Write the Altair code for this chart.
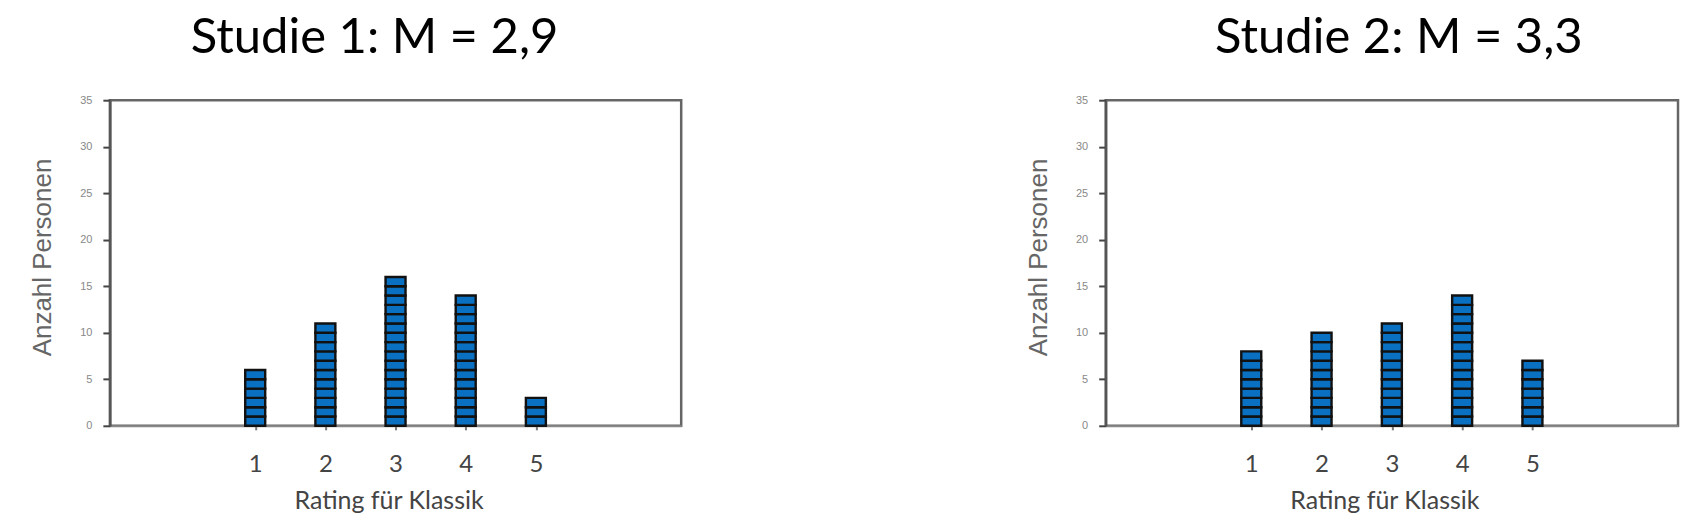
import altair as alt
import pandas as pd

ratings = [1, 2, 3, 4, 5]
counts_studie1 = [6, 11, 16, 14, 3]
counts_studie2 = [8, 10, 11, 14, 7]
titles = ["Studie 1: M = 2,9", "Studie 2: M = 3,3"]
y_ticks = [0, 5, 10, 15, 20, 25, 30, 35]
x_title = "Rating für Klassik"
y_title = "Anzahl Personen"


def units(counts):
    rows = []
    for r, c in zip(ratings, counts):
        for k in range(c):
            rows.append({"rating": r, "lo": k, "hi": k + 1})
    return pd.DataFrame(rows)


def panel(counts, title, width, title_dx):
    df = units(counts)
    return (
        alt.Chart(df)
        .mark_bar(size=20, fill="#0a70c2", stroke="#111111", strokeWidth=2.4)
        .encode(
            x=alt.X(
                "rating:Q",
                scale=alt.Scale(domain=[-1, 7], nice=False, zero=False),
                axis=alt.Axis(
                    values=ratings,
                    title=x_title,
                    grid=False,
                    ticks=True,
                    tickSize=4,
                    tickColor="#777777",
                    tickWidth=2,
                    domainColor="#888888",
                    domainWidth=2,
                    labelFont="Lato",
                    labelFontSize=24,
                    labelColor="#444444",
                    labelPadding=42,
                    labelBaseline="alphabetic",
                    titleFont="Lato",
                    titleFontSize=25,
                    titleFontWeight="normal",
                    titleColor="#444444",
                    titleX=279,
                    titleY=83,
                    titleBaseline="alphabetic",
                    titleAlign="center",
                ),
            ),
            y=alt.Y(
                "lo:Q",
                scale=alt.Scale(domain=[0, 35], nice=False),
                axis=alt.Axis(
                    values=y_ticks,
                    title=y_title,
                    grid=False,
                    tickSize=7,
                    tickColor="#444444",
                    tickWidth=2,
                    domainColor="#555555",
                    domainWidth=2.5,
                    labelFont="Liberation Sans",
                    labelFontSize=11,
                    labelColor="#888888",
                    labelPadding=11,
                    titleFont="Liberation Sans",
                    titleFontSize=26,
                    titleFontWeight="normal",
                    titleColor="#666666",
                    titleX=-67,
                    titleY=157,
                    titleAngle=-90,
                    titleAlign="center",
                    titleBaseline="middle",
                ),
            ),
            y2="hi:Q",
        )
        .properties(
            width=width,
            height=326,
            title=alt.TitleParams(
                text=title,
                font="Lato",
                fontSize=49,
                fontWeight="normal",
                color="#000000",
                anchor="middle",
                frame="group",
                baseline="alphabetic",
                offset=-8,
                dx=title_dx,
            ),
        )
    )


left = panel(counts_studie1, titles[0], 572, -21)
right = panel(counts_studie2, titles[1], 573, 7)

chart = (
    alt.hconcat(left, right, spacing=425, bounds="flush")
    .properties(
        autosize=alt.AutoSizeParams(type="pad"),
        padding={"left": 20, "top": 4, "right": 5, "bottom": 5},
    )
    .configure_view(stroke="#666666", strokeWidth=2.5)
)

chart.save("out.html", embed_options={"renderer": "svg", "actions": False})
